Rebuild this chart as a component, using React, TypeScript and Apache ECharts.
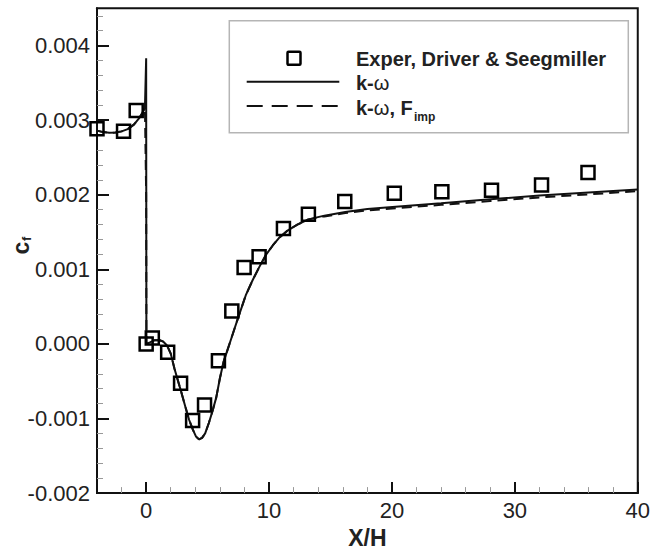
import React, { useEffect, useRef } from "react";
import * as echarts from "echarts";

// ---- data ----
const expX = [-4.0, -1.84, -0.81, 0.0, 0.5, 1.75, 2.8, 3.78, 4.75, 5.88, 6.97, 7.97, 9.19, 11.17, 13.2, 16.16, 20.19, 24.06, 28.1, 32.17, 35.95];
const expCf = [0.002884, 0.00285, 0.00313, 0.0, 0.00008, -0.00011, -0.000526, -0.001025, -0.00082, -0.000227, 0.00044, 0.001025, 0.00117, 0.001547, 0.00174, 0.00191, 0.00202, 0.00204, 0.00206, 0.00213, 0.0023];

const kwX = [-4, -3.5, -3, -2.5, -2, -1.5, -1.0, -0.6, -0.3, -0.1, 0, 0.02, 0.3, 0.7, 1.1, 1.4, 1.7, 2.0, 2.3, 2.6, 2.9, 3.2, 3.5, 3.8, 4.05, 4.3, 4.55, 4.8, 5.1, 5.4, 5.7, 6.0, 6.3, 6.6, 6.9, 7.2, 7.5, 8.1, 8.65, 9.2, 9.73, 10.3, 10.8, 11.5, 12.3, 13.2, 14.5, 16.2, 18, 20.3, 24, 28, 32, 36, 40];
const kwCf = [0.00286, 0.00284, 0.00283, 0.002835, 0.00285, 0.00288, 0.00294, 0.00302, 0.0031, 0.00317, 0.00383, 0.0, 0.00002, 0.00005, 0.00005, 0.00003, -0.00002, -0.00013, -0.00033, -0.0005, -0.00067, -0.00085, -0.00102, -0.00115, -0.00124, -0.00128, -0.00126, -0.0012, -0.00106, -0.0009, -0.00072, -0.00046, -0.00024, -0.00009, 0.00006, 0.00021, 0.00036, 0.00065, 0.00085, 0.00103, 0.00119, 0.00132, 0.00142, 0.00152, 0.0016, 0.00167, 0.00172, 0.00177, 0.00181, 0.00184, 0.001885, 0.00194, 0.00199, 0.00203, 0.00207];

const kwFX = [-4, -3.5, -3, -2.5, -2, -1.5, -1.0, -0.6, -0.3, -0.1, 0, 0.02, 0.3, 0.7, 1.1, 1.4, 1.7, 2.0, 2.3, 2.6, 2.9, 3.2, 3.5, 3.8, 4.05, 4.3, 4.55, 4.8, 5.1, 5.4, 5.7, 6.0, 6.3, 6.6, 6.9, 7.2, 7.5, 8.1, 8.65, 9.2, 9.73, 10.3, 10.8, 11.5, 12.3, 13.2, 14.5, 16.2, 18, 20.3, 24, 28, 32, 36, 40];
const kwFCf = [0.00286, 0.00284, 0.00283, 0.002835, 0.00285, 0.00288, 0.00294, 0.00302, 0.0031, 0.00317, 0.002, 0.0, 0.00002, 0.00005, 0.00005, 0.00003, -0.00002, -0.00013, -0.00033, -0.0005, -0.00067, -0.00085, -0.00102, -0.00115, -0.00124, -0.00128, -0.00126, -0.0012, -0.00106, -0.0009, -0.00072, -0.00046, -0.00024, -0.00009, 0.00006, 0.00021, 0.00036, 0.00065, 0.00085, 0.00103, 0.00119, 0.00132, 0.00142, 0.00152, 0.0016, 0.00167, 0.00171, 0.001755, 0.00179, 0.00182, 0.001865, 0.001915, 0.001965, 0.002005, 0.00205];

const xTicks = [0, 10, 20, 30, 40];
const xMinorTicks = [-2, 2, 4, 6, 8, 12, 14, 16, 18, 22, 24, 26, 28, 32, 34, 36, 38];
const yTicks = [-0.002, -0.001, 0.0, 0.001, 0.002, 0.003, 0.004];
const yMinorTicks = [-0.0018, -0.0016, -0.0014, -0.0012, -0.0008, -0.0006, -0.0004, -0.0002, 0.0002, 0.0004, 0.0006, 0.0008, 0.0012, 0.0014, 0.0016, 0.0018, 0.0022, 0.0024, 0.0026, 0.0028, 0.0032, 0.0034, 0.0036, 0.0038, 0.0042, 0.0044];

const FONT = "'Liberation Sans', Arial, Helvetica, sans-serif";

const pairs = (xs: number[], ys: number[]) => xs.map((x, i) => [x, ys[i]]);

export default function App() {
  const ref = useRef<HTMLDivElement>(null);
  useEffect(() => {
    if (!ref.current) return;
    const chart = echarts.init(ref.current, undefined, { renderer: "svg" });
    const axisCommon = {
      type: "value" as const,
      splitLine: { show: false },
    };
    chart.setOption({
      animation: false,
      backgroundColor: "#ffffff",
      grid: {
        left: 97,
        right: 14,
        top: 8.3,
        bottom: 50.7,
        show: true,
        borderColor: "#111",
        borderWidth: 2,
        backgroundColor: "transparent",
      },
      xAxis: [
        {
          ...axisCommon,
          min: -4,
          max: 40,
          position: "bottom",
          name: "X/H",
          nameLocation: "middle",
          nameGap: 32,
          nameTextStyle: { fontFamily: FONT, fontSize: 23, fontWeight: "bold", color: "#222" },
          axisLine: { show: true, onZero: false, lineStyle: { color: "#111", width: 2 } },
          axisTick: { show: true, inside: true, length: 11, customValues: xTicks, lineStyle: { color: "#111", width: 2 } },
          axisLabel: { show: true, customValues: xTicks, margin: 6, fontFamily: FONT, fontSize: 22, color: "#222" },
        },
        {
          ...axisCommon,
          min: -4,
          max: 40,
          position: "bottom",
          axisLine: { show: false, onZero: false },
          axisTick: { show: true, inside: true, length: 6, customValues: xMinorTicks, lineStyle: { color: "#999", width: 1 } },
          axisLabel: { show: false },
        },
      ],
      yAxis: [
        {
          ...axisCommon,
          min: -0.002,
          max: 0.0045,
          position: "left",
          axisLine: { show: true, onZero: false, lineStyle: { color: "#111", width: 2 } },
          axisTick: { show: true, inside: true, length: 12, customValues: yTicks, lineStyle: { color: "#111", width: 2 } },
          axisLabel: {
            show: true,
            customValues: yTicks,
            margin: 7,
            fontFamily: FONT,
            fontSize: 22,
            color: "#222",
            formatter: (v: number) => v.toFixed(3),
          },
        },
        {
          ...axisCommon,
          min: -0.002,
          max: 0.0045,
          position: "left",
          axisLine: { show: false, onZero: false },
          axisTick: { show: true, inside: true, length: 6, customValues: yMinorTicks, lineStyle: { color: "#999", width: 1 } },
          axisLabel: { show: false },
        },
      ],
      series: [
        {
          name: "k-ω",
          type: "line",
          data: pairs(kwX, kwCf),
          showSymbol: false,
          symbol: "none",
          lineStyle: { color: "#111", width: 2 },
          z: 2,
        },
        {
          name: "k-ω, F_imp",
          type: "line",
          data: pairs(kwFX, kwFCf),
          showSymbol: false,
          symbol: "none",
          lineStyle: { color: "#111", width: 2, type: [10, 6] },
          z: 2,
        },
        {
          name: "Exper, Driver & Seegmiller",
          type: "scatter",
          data: pairs(expX, expCf),
          symbol: "rect",
          symbolSize: 13,
          clip: false,
          itemStyle: { color: "rgba(255,255,255,0)", borderColor: "#000", borderWidth: 2.5, opacity: 1 },
          z: 3,
        },
      ],
      graphic: [
        {
          type: "group",
          x: 21,
          y: 248,
          rotation: Math.PI / 2,
          children: [
            { type: "text", x: 0, y: 0, style: { text: "c", fontFamily: FONT, fontSize: 23, fontWeight: "bold", fill: "#222", align: "center", verticalAlign: "middle" } },
            { type: "text", x: 7, y: 5, style: { text: "f", fontFamily: FONT, fontSize: 13, fontWeight: "bold", fill: "#222", align: "left", verticalAlign: "middle" } },
          ],
        },
        {
          type: "rect",
          shape: { x: 229.3, y: 20.7, width: 399, height: 112 },
          style: { fill: "#fff", stroke: "#b5b5b5", lineWidth: 1.5 },
          z: 10,
        },
        {
          type: "rect",
          shape: { x: 287.5, y: 51.8, width: 13, height: 13, r: 1 },
          style: { fill: "none", stroke: "#000", lineWidth: 2.5 },
          z: 11,
        },
        {
          type: "line",
          shape: { x1: 246.7, y1: 81.7, x2: 339.3, y2: 81.7 },
          style: { stroke: "#111", lineWidth: 2 },
          z: 11,
        },
        {
          type: "line",
          shape: { x1: 246.7, y1: 106, x2: 339.3, y2: 106 },
          style: { stroke: "#111", lineWidth: 2, lineDash: [16, 9] },
          z: 11,
        },
        {
          type: "text",
          x: 356,
          y: 58.5,
          style: { text: "Exper, Driver & Seegmiller", fontFamily: FONT, fontSize: 20, fontWeight: "bold", fill: "#222", align: "left", verticalAlign: "middle" },
          z: 11,
        },
        {
          type: "text",
          x: 356,
          y: 83,
          style: {
            text: "{b|k-}{w|ω}",
            align: "left",
            verticalAlign: "middle",
            rich: {
              b: { fontFamily: FONT, fontSize: 20, fontWeight: "bold", fill: "#222" },
              w: { fontFamily: FONT, fontSize: 20, fontWeight: "normal", fill: "#222" },
            },
          },
          z: 11,
        },
        {
          type: "text",
          x: 356,
          y: 108,
          style: {
            text: "{b|k-}{w|ω}{b|, F}",
            align: "left",
            verticalAlign: "middle",
            rich: {
              b: { fontFamily: FONT, fontSize: 20, fontWeight: "bold", fill: "#222" },
              w: { fontFamily: FONT, fontSize: 20, fontWeight: "normal", fill: "#222" },
            },
          },
          z: 11,
        },
        {
          type: "text",
          x: 414,
          y: 116.5,
          style: { text: "imp", fontFamily: FONT, fontSize: 12, fontWeight: "bold", fill: "#222", align: "left", verticalAlign: "middle" },
          z: 11,
        },
      ],
    });
    return () => chart.dispose();
  }, []);
  return <div ref={ref} style={{ position: "fixed", left: 0, top: 0, width: 653, height: 554 }} />;
}
